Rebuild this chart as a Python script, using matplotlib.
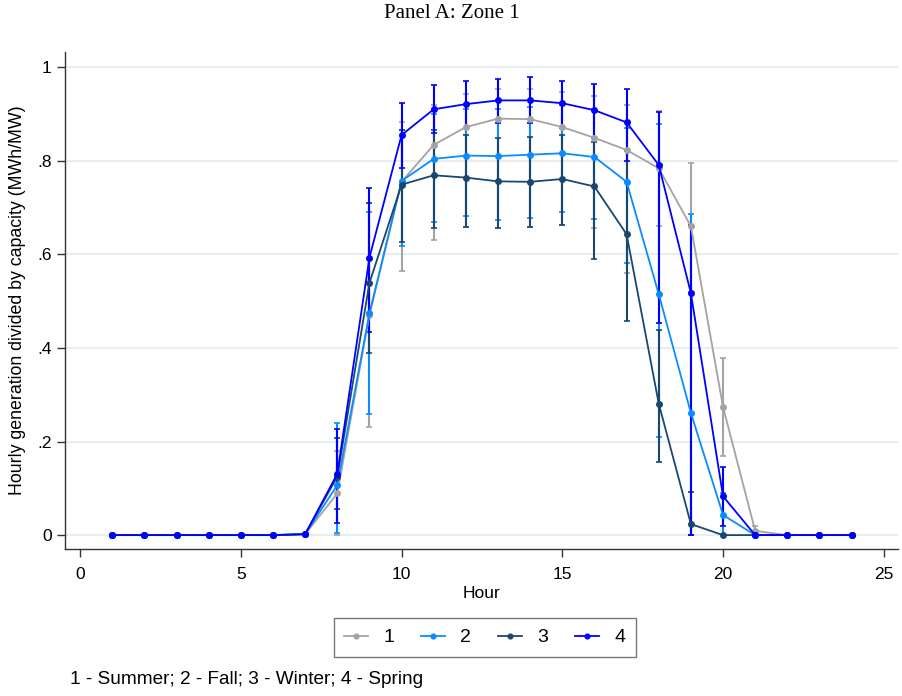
import matplotlib
matplotlib.use('Agg')
import matplotlib.pyplot as plt
import numpy as np

# hourly capacity factor by season, with spread bands (lower / upper)
hours = np.arange(1, 25)

summer = [0, 0, 0, 0, 0, 0, 0.002, 0.089, 0.47, 0.755, 0.834, 0.872, 0.890, 0.889,
          0.872, 0.849, 0.823, 0.784, 0.660, 0.274, 0.009, 0, 0, 0]
fall = [0, 0, 0, 0, 0, 0, 0.002, 0.107, 0.474, 0.757, 0.804, 0.811, 0.810, 0.813,
        0.816, 0.808, 0.755, 0.515, 0.261, 0.043, 0, 0, 0, 0]
winter = [0, 0, 0, 0, 0, 0, 0.002, 0.125, 0.539, 0.749, 0.769, 0.764, 0.756, 0.755,
          0.761, 0.745, 0.643, 0.281, 0.0235, 0, 0, 0, 0, 0]
spring = [0, 0, 0, 0, 0, 0, 0.002, 0.131, 0.593, 0.855, 0.910, 0.921, 0.929, 0.929,
          0.923, 0.908, 0.882, 0.791, 0.517, 0.083, 0, 0, 0, 0]

summer_lo = [0, 0, 0, 0, 0, 0, 0.002, 0.0, 0.231, 0.564, 0.630, 0.659, 0.657, 0.659,
             0.662, 0.656, 0.56, 0.66, 0.52, 0.17, 0.0, 0, 0, 0]
summer_hi = [0, 0, 0, 0, 0, 0, 0.002, 0.18, 0.709, 0.882, 0.919, 0.942, 0.953, 0.954,
             0.946, 0.939, 0.92, 0.907, 0.796, 0.378, 0.02, 0, 0, 0]
fall_lo = [0, 0, 0, 0, 0, 0, 0.002, 0.004, 0.258, 0.617, 0.67, 0.682, 0.673, 0.678,
           0.691, 0.676, 0.582, 0.21, 0.0, 0.0, 0, 0, 0, 0]
fall_hi = [0, 0, 0, 0, 0, 0, 0.002, 0.239, 0.69, 0.865, 0.90, 0.91, 0.91, 0.915,
           0.92, 0.91, 0.87, 0.878, 0.687, 0.09, 0, 0, 0, 0]
winter_lo = [0, 0, 0, 0, 0, 0, 0.002, 0.055, 0.389, 0.627, 0.657, 0.659, 0.657, 0.659,
             0.662, 0.591, 0.457, 0.157, 0.0, 0, 0, 0, 0, 0]
winter_hi = [0, 0, 0, 0, 0, 0, 0.002, 0.207, 0.709, 0.865, 0.865, 0.855, 0.849, 0.85,
             0.855, 0.84, 0.82, 0.438, 0.093, 0, 0, 0, 0, 0]
spring_lo = [0, 0, 0, 0, 0, 0, 0.002, 0.025, 0.434, 0.785, 0.86, 0.87, 0.88, 0.88,
             0.87, 0.85, 0.80, 0.453, 0.0, 0.019, 0, 0, 0, 0]
spring_hi = [0, 0, 0, 0, 0, 0, 0.002, 0.226, 0.742, 0.924, 0.961, 0.970, 0.974, 0.978,
             0.970, 0.964, 0.954, 0.904, 0.662, 0.146, 0, 0, 0, 0]

labels = ['1', '2', '3', '4']
colors = ['#a3a3a3', '#0a8cff', '#1a476f', '#0000ff']

series = [(summer, summer_lo, summer_hi),
          (fall, fall_lo, fall_hi),
          (winter, winter_lo, winter_hi),
          (spring, spring_lo, spring_hi)]

plt.rcParams['font.family'] = ['Liberation Sans', 'DejaVu Sans']

fig = plt.figure(figsize=(9.03, 6.96), dpi=100)
ax = fig.add_axes([0.072, 0.211, 0.922, 0.714])

for (mean, lo, hi), lab, col in zip(series, labels, colors):
    mean = np.array(mean)
    lo = np.array(lo)
    hi = np.array(hi)
    show = hi > lo
    ax.errorbar(hours[show], mean[show],
                yerr=[mean[show] - lo[show], hi[show] - mean[show]],
                fmt='none', ecolor=col, elinewidth=1.5, capsize=2.2,
                capthick=1.2, zorder=2)
    ax.plot(hours, mean, color=col, lw=1.3, marker='o', markersize=4,
            label=lab, zorder=3)

ax.set_xlim(-0.47, 25.43)
ax.set_ylim(-0.03, 1.032)
ax.set_xticks([0, 5, 10, 15, 20, 25])
ax.set_yticks([0, 0.2, 0.4, 0.6, 0.8, 1.0])
ax.set_yticklabels(['0', '.2', '.4', '.6', '.8', '1'])
ax.tick_params(axis='both', labelsize=12.5, length=6, width=1, color='#333333')
ax.tick_params(axis='x', pad=7)
ax.grid(axis='y', color='#e6eef1', lw=1.5)
ax.set_axisbelow(True)
for s in ['top', 'right']:
    ax.spines[s].set_visible(False)
for s in ['left', 'bottom']:
    ax.spines[s].set_color('#333333')
    ax.spines[s].set_linewidth(1)

ax.set_xlabel('Hour', fontsize=12.5, labelpad=3)
ax.set_ylabel('Hourly generation divided by capacity (MWh/MW)', fontsize=12.8, labelpad=8)

fig.text(0.5, 0.981, 'Panel A: Zone 1', ha='center', va='center', fontsize=15,
         family=['Liberation Serif', 'DejaVu Serif'])

leg = fig.legend(loc='center', bbox_to_anchor=(0.537, 0.084), ncol=4,
                 fontsize=14, frameon=True, fancybox=False, handlelength=1.2,
                 columnspacing=1.4, handletextpad=0.8, borderpad=0.55,
                 markerscale=0.85)
leg.get_frame().set_edgecolor('#555555')
leg.get_frame().set_linewidth(1)

fig.text(0.077, 0.023, '1 - Summer; 2 - Fall; 3 - Winter; 4 - Spring',
         ha='left', va='center', fontsize=13.7)

fig.savefig('out.png', dpi=100, facecolor='white')
plt.close()
